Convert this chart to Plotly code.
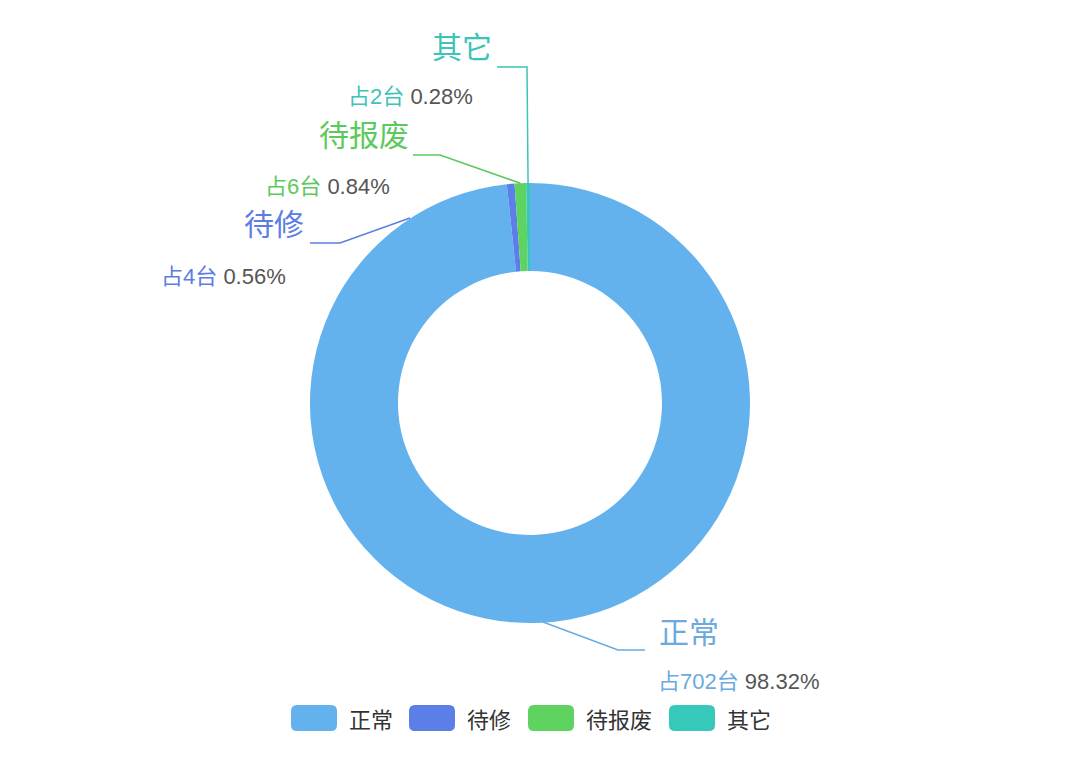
import plotly.graph_objects as go
import math

categories = ["正常", "待修", "待报废", "其它"]
counts = [702, 4, 6, 2]
percent_text = ["98.32%", "0.56%", "0.84%", "0.28%"]
slice_colors = ["#63b2ee", "#5b7ee8", "#5fd35f", "#36c9ba"]
label_colors = ["#6aaae0", "#5b7ee0", "#5cc95c", "#3cc4b8"]

W, H = 1080, 764
CX, CY, R = 530, 403, 220

def px(x):
    return x / W

def py(y):
    return 1 - y / H

font_family = "Liberation Sans, Noto Sans CJK SC, sans-serif"
cjk_family = "Noto Sans CJK SC, sans-serif"

fig = go.Figure()
fig.add_trace(go.Pie(
    labels=categories,
    values=counts,
    hole=0.6,
    sort=False,
    direction="clockwise",
    rotation=0,
    marker=dict(colors=slice_colors, line=dict(width=0)),
    textinfo="none",
    hoverinfo="label+value+percent",
    domain=dict(x=[px(CX - R), px(CX + R)], y=[py(CY + R), py(CY - R)]),
    showlegend=False,
))

total = sum(counts)
cum = 0
mid_pts = []
for c in counts:
    frac = (cum + c / 2) / total
    ang = 2 * math.pi * frac
    mid_pts.append((CX + R * math.sin(ang), CY - R * math.cos(ang)))
    cum += c

shapes = []
annotations = []

# leader lines (pixel layout), starting at slice edge from data
leader = {
    0: [(543, 622), (618, 650), (645, 650)],
    1: [(410, 218), (340, 243), (310, 243)],
    2: [None, (440, 155), (413, 155)],
    3: [None, (527, 67), (497, 67)],
}
for i, pts in leader.items():
    pts = list(pts)
    if pts[0] is None:
        pts[0] = mid_pts[i]
    path = "M {},{}".format(px(pts[0][0]), py(pts[0][1]))
    for p in pts[1:]:
        path += " L {},{}".format(px(p[0]), py(p[1]))
    shapes.append(dict(type="path", path=path, xref="paper", yref="paper",
                       line=dict(color=label_colors[i], width=1.5), layer="above"))

# label positions (pixel)
name_pos = [(689, 630), (274, 222), (364, 133), (462, 45)]
sub_pos = [(738, 681), (223, 276), (327, 186), (410, 97)]
for i, cat in enumerate(categories):
    annotations.append(dict(
        x=px(name_pos[i][0]), y=py(name_pos[i][1]), xref="paper", yref="paper",
        text=cat, showarrow=False, xanchor="center", yanchor="middle",
        font=dict(size=30, color=label_colors[i], family=cjk_family)))
    annotations.append(dict(
        x=px(sub_pos[i][0]), y=py(sub_pos[i][1]), xref="paper", yref="paper",
        text="<span style='color:{}'>占{}台</span> <span style='color:#555555'>{}</span>".format(
            label_colors[i], counts[i], percent_text[i]),
        showarrow=False, xanchor="center", yanchor="middle",
        font=dict(size=22, color="#555555", family=font_family)))

# custom legend
leg_rect_x = [291, 409, 528, 669]
leg_y = 718
rw, rh, rr = 46, 26, 6
for i, cat in enumerate(categories):
    x0, x1 = leg_rect_x[i], leg_rect_x[i] + rw
    y0, y1 = leg_y - rh / 2, leg_y + rh / 2
    path = (
        f"M {px(x0 + rr)},{py(y0)} L {px(x1 - rr)},{py(y0)} "
        f"Q {px(x1)},{py(y0)} {px(x1)},{py(y0 + rr)} "
        f"L {px(x1)},{py(y1 - rr)} Q {px(x1)},{py(y1)} {px(x1 - rr)},{py(y1)} "
        f"L {px(x0 + rr)},{py(y1)} Q {px(x0)},{py(y1)} {px(x0)},{py(y1 - rr)} "
        f"L {px(x0)},{py(y0 + rr)} Q {px(x0)},{py(y0)} {px(x0 + rr)},{py(y0)} Z"
    )
    shapes.append(dict(type="path", path=path, xref="paper", yref="paper",
                       fillcolor=slice_colors[i], line=dict(width=0), layer="above"))
    annotations.append(dict(
        x=px(x1 + 10), y=py(leg_y), xref="paper", yref="paper",
        text=cat, showarrow=False, xanchor="left", yanchor="middle",
        font=dict(size=22, color="#333333", family=cjk_family)))

fig.update_layout(
    width=W, height=H,
    margin=dict(l=0, r=0, t=0, b=0),
    paper_bgcolor="white", plot_bgcolor="white",
    shapes=shapes, annotations=annotations,
    showlegend=False,
)

fig.write_html("out.html")
